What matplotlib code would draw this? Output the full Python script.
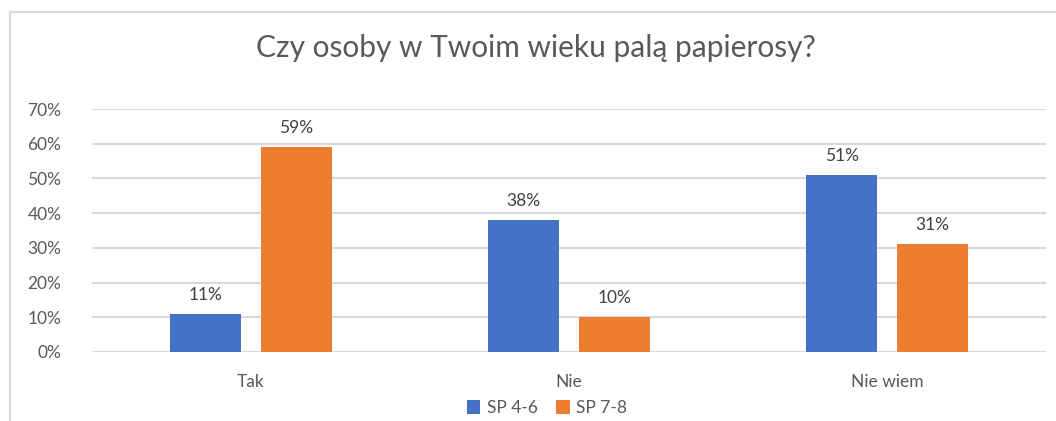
import numpy as np
import matplotlib
matplotlib.use("Agg")
import matplotlib.pyplot as plt
from matplotlib.patches import Rectangle

# dane ankiety
kategorie = ["Tak", "Nie", "Nie wiem"]
sp_4_6 = [0.11, 0.38, 0.51]
sp_7_8 = [0.59, 0.10, 0.31]
serie = ["SP 4-6", "SP 7-8"]
yticks = [0.0, 0.1, 0.2, 0.3, 0.4, 0.5, 0.6, 0.7]

niebieski = "#4472C4"
pomaranczowy = "#ED7D31"
szary_tekst = "#595959"

plt.rcParams["font.family"] = ["Lato", "DejaVu Sans"]

fig = plt.figure(figsize=(10.56, 4.21), dpi=100)
# ramka wykresu (prawa i dolna krawedz poza kadrem)
fig.patches.append(Rectangle((10 / 1056, -0.1), 1.2, 1 - 12 / 421 + 0.1,
                             transform=fig.transFigure, fill=False,
                             edgecolor="#D9D9D9", linewidth=1.5))

ax = fig.add_axes([92 / 1056, 1 - 352 / 421, (1046 - 92) / 1056, (352 - 109) / 421])

x = np.arange(len(kategorie))
szer = 0.223
przes = 0.143
b1 = ax.bar(x - przes, sp_4_6, szer, color=niebieski, label=serie[0], zorder=3)
b2 = ax.bar(x + przes, sp_7_8, szer, color=pomaranczowy, label=serie[1], zorder=3)

for bars, vals in ((b1, sp_4_6), (b2, sp_7_8)):
    for b, v in zip(bars, vals):
        ax.annotate(f"{v * 100:.0f}%", (b.get_x() + b.get_width() / 2, v),
                    xytext=(0, 8), textcoords="offset points",
                    ha="center", va="bottom", fontsize=12.5, color="#404040")

ax.set_xlim(-0.5, 2.5)
ax.set_ylim(0, 0.7)
ax.set_yticks(yticks)
ax.set_yticklabels([f"{t * 100:.0f}%" for t in yticks])
ax.set_xticks(x)
ax.set_xticklabels(kategorie)
ax.grid(axis="y", color="#D9D9D9", linewidth=1.5, zorder=0)
for s in ax.spines.values():
    s.set_visible(False)
ax.tick_params(axis="both", length=0, labelsize=12.5, labelcolor=szary_tekst)
ax.tick_params(axis="y", pad=22)
ax.tick_params(axis="x", pad=16)

fig.text(536 / 1056, 1 - 48 / 421, "Czy osoby w Twoim wieku palą papierosy?",
         ha="center", va="center", fontsize=21.5, color=szary_tekst)

fig.legend(loc="center", bbox_to_anchor=(547 / 1056, 1 - 408 / 421), ncol=2,
           frameon=False, fontsize=12.5, labelcolor=szary_tekst,
           handlelength=0.8, handleheight=0.8, handletextpad=0.4, columnspacing=1.0)

fig.savefig("out.png", dpi=100)
